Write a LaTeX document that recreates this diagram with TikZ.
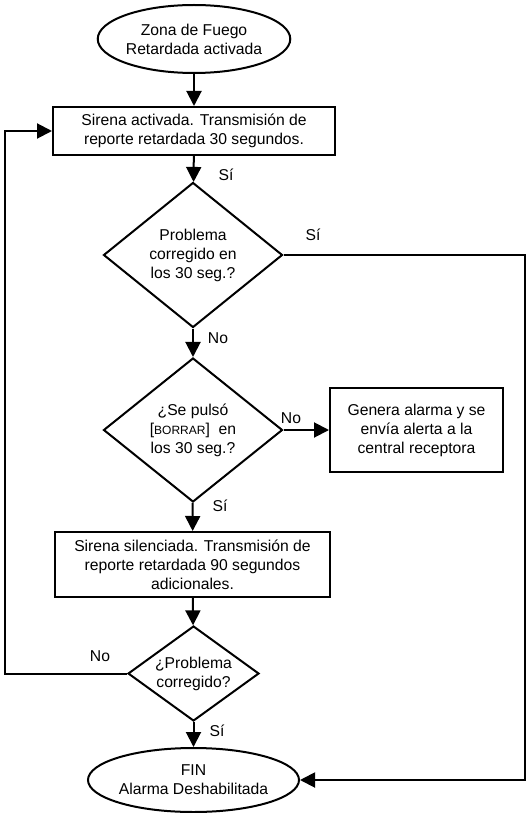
\documentclass[tikz,border=0pt]{standalone}
\usepackage{fontspec}
\setmainfont{Liberation Sans}
\usetikzlibrary{shapes.geometric,arrows.meta}
\begin{document}
\begin{tikzpicture}[x=1pt,y=-1pt,line width=2pt,
        font=\fontsize{15.7}{19}\selectfont,
        flecha/.style={-{Triangle[length=15pt,width=15pt]}},
        caja/.style={draw,rectangle,align=center,inner sep=0pt},
        rombo/.style={draw,diamond,align=center,inner sep=0pt},
        elipse/.style={draw,ellipse,align=center,inner sep=0pt}]
        \useasboundingbox (0,0) rectangle (527,813);
        \node[elipse,minimum width=166pt,minimum height=68pt] (inicio) at (194,39) {Zona de Fuego\\Retardada activada};
        \node[caja,minimum width=282pt,minimum height=48pt] (sirena) at (194,131) {Sirena activada. Transmisión de\\reporte retardada 30 segundos.};
        \node[rombo,aspect=1.23,minimum width=179pt,minimum height=145pt] (prob1) at (193,255) {Problema\\corregido en\\los 30 seg.?};
        \node[rombo,aspect=1.24,minimum width=179pt,minimum height=144pt] (borrar) at (193,430) {¿Se pulsó\\{}[{\fontsize{12}{14}\selectfont BORRAR}]~ en\\los 30 seg.?};
        \node[caja,minimum width=173pt,minimum height=84pt] (alarma) at (416.5,430) {Genera alarma y se\\envía alerta a la\\central receptora};
        \node[caja,minimum width=275pt,minimum height=65pt] (silencio) at (192.5,564.5) {Sirena silenciada. Transmisión de\\reporte retardada 90 segundos\\adicionales.};
        \node[rombo,aspect=1.38,minimum width=131pt,minimum height=95pt] (prob2) at (193.5,673.5) {¿Problema\\corregido?};
        \node[elipse,minimum width=167pt,minimum height=64pt] (fin) at (193.5,780) {FIN\\Alarma Deshabilitada};
        \coordinate (derecha) at (525,500);
        \coordinate (izquierda) at (5,400);
        \draw[flecha] (inicio) -- (sirena);
        \draw[flecha] (sirena) -- (prob1);
        \draw[flecha] (prob1) -- (borrar);
        \draw[flecha] (borrar) -- (silencio);
        \draw[flecha] (borrar.east) -- (alarma);
        \draw[flecha] (silencio) -- (prob2);
        \draw[flecha] (prob2) -- (fin);
        \draw[flecha] (prob1.east) -| (derecha) |- (fin.east);
        \draw[flecha] (prob2.west) -| (izquierda) |- (sirena.west);
        \node (si1) at (226,175) {Sí};
        \node (si2) at (313,235) {Sí};
        \node (no1) at (218,338) {No};
        \node (no2) at (291,418) {No};
        \node (si3) at (220,506) {Sí};
        \node (no3) at (100,656) {No};
        \node (si4) at (217,731) {Sí};
\end{tikzpicture}
\end{document}
